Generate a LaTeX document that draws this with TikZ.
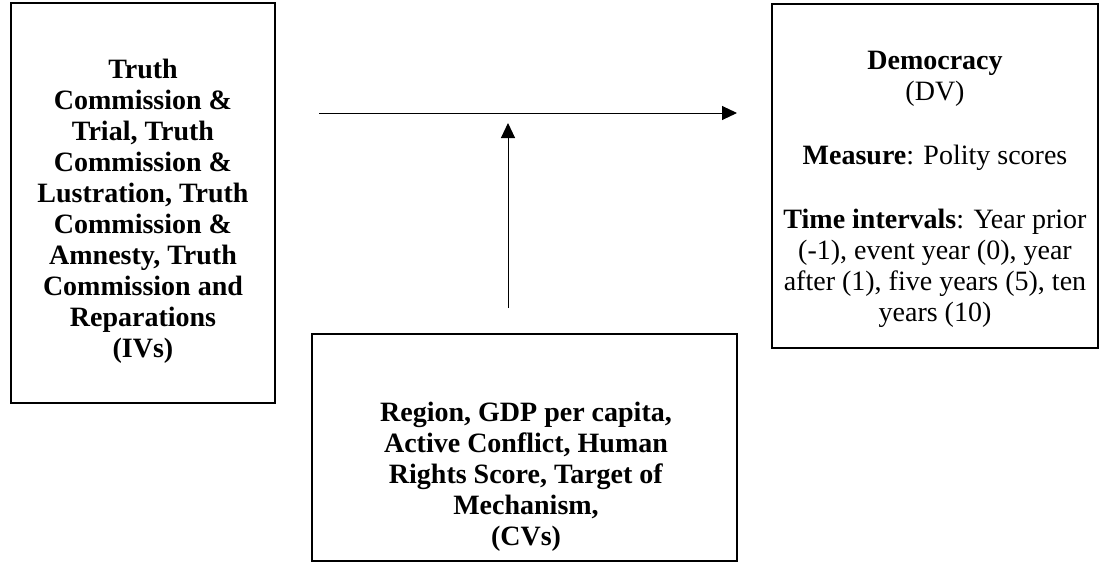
\documentclass[tikz,border=0pt]{standalone}
\usepackage{fontspec}
\setmainfont{Liberation Serif}
\usetikzlibrary{arrows.meta}
\tikzset{
  varbox/.style={draw=black, line width=1.5pt, rectangle, inner sep=0pt},
  vartext/.style={align=center, inner sep=0pt, font=\fontsize{28}{31}\selectfont},
  link/.style={draw=black, line width=1pt, -{Triangle[length=15pt,width=14pt]}}
}
\begin{document}
\begin{tikzpicture}[x=1pt,y=-1pt]
\useasboundingbox (0,0) rectangle (1100,563);
% independent variables
\node[varbox, minimum width=264pt, minimum height=400pt] (ivbox) at (143,203) {};
\node[vartext] (ivtext) at (143,211) {\textbf{Truth}\\\textbf{Commission \&}\\\textbf{Trial, Truth}\\\textbf{Commission \&}\\\textbf{Lustration, Truth}\\\textbf{Commission \&}\\\textbf{Amnesty, Truth}\\\textbf{Commission and}\\\textbf{Reparations}\\\textbf{(IVs)}};
% dependent variable
\node[varbox, minimum width=326pt, minimum height=344pt] (dvbox) at (935,176) {};
\node[vartext] (dvtext) at (935,189) {\textbf{Democracy}\\(DV)\\[33pt]\textbf{Measure}: Polity scores\\[33pt]\textbf{Time intervals}: Year prior\\(-1), event year (0), year\\after (1), five years (5), ten\\years (10)};
% control variables
\node[varbox, minimum width=425pt, minimum height=227pt] (cvbox) at (524.5,447.5) {};
\node[vartext] (cvtext) at (526,477) {\textbf{Region, GDP per capita,}\\\textbf{Active Conflict, Human}\\\textbf{Rights Score, Target of}\\\textbf{Mechanism,}\\\textbf{(CVs)}};
% arrows
\coordinate (hstart) at (319,113);
\coordinate (hend) at (737,113);
\coordinate (vstart) at (508,308);
\coordinate (vend) at (508,123);
\draw[link] (hstart) -- (hend);
\draw[link] (vstart) -- (vend);
\end{tikzpicture}
\end{document}
